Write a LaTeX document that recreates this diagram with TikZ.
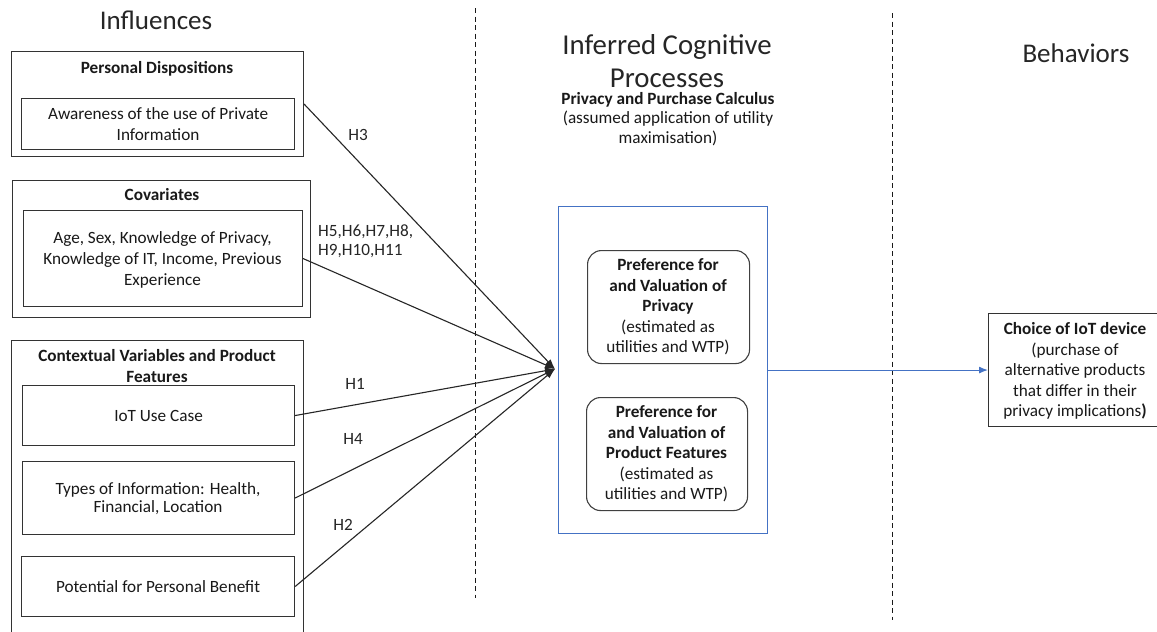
\documentclass[tikz,border=0pt]{standalone}
\usepackage{fontspec}
\setmainfont{Carlito}
\usetikzlibrary{arrows.meta}
\definecolor{procblue}{HTML}{4472C4}
\tikzset{
  box/.style={draw=black!80, line width=1.1pt, inner sep=0pt, anchor=north west},
  rbox/.style={draw=black!75, line width=1.1pt, inner sep=0pt, anchor=north west, rounded corners=14pt},
  bbox/.style={draw=procblue, line width=1.1pt, inner sep=0pt, anchor=north west},
  txt/.style={font=\fontsize{17.2}{20.6}\selectfont, align=center, text=black!90, inner sep=0pt},
  ttl/.style={font=\fontsize{27}{33}\selectfont, align=center, text=black!85, inner sep=0pt},
  hlab/.style={font=\fontsize{17.2}{19}\selectfont, align=left, text=black!85, inner sep=0pt},
  link/.style={draw=black!85, line width=1.1pt, -{Latex[length=10pt,width=7pt]}},
  bluelink/.style={draw=procblue, line width=1.1pt, -{Latex[length=9pt,width=7pt]}},
  divider/.style={draw=black!90, line width=0.9pt, dash pattern=on 5pt off 3.5pt}
}
\begin{document}
\begin{tikzpicture}[x=1pt,y=-1pt]
\useasboundingbox (0,0) rectangle (1157,632);
\clip (0,0) rectangle (1157,632);
\fill[white] (0,0) rectangle (1157,632);
% titles
\node[ttl] (tinf) at (156,20) {Influences};
\node[ttl, font=\fontsize{28.8}{33}\selectfont, anchor=base] (tmid) at (667,54) {Inferred Cognitive};
\node[ttl, font=\fontsize{28.8}{33}\selectfont, anchor=base] (tmid2) at (667,87) {Processes};
\node[ttl] (tbeh) at (1076,53) {Behaviors};
\node[txt, font=\fontsize{17.2}{19.5}\selectfont] (tcalc) at (668,119) {\textbf{Privacy and Purchase Calculus}\\(assumed application of utility\\maximisation)};
% dividers
\coordinate (d1t) at (475,8);
\coordinate (d1b) at (475,598);
\coordinate (d2t) at (892,13);
\coordinate (d2b) at (892,620);
\draw[divider] (d1t) -- (d1b);
\draw[divider] (d2t) -- (d2b);
% personal dispositions
\node[box, minimum width=292pt, minimum height=105pt] (pd) at (11,51) {};
\node[txt] (pdt) at (157,69) {\textbf{Personal Dispositions}};
\node[box, minimum width=273pt, minimum height=51pt] (pdin) at (21,98) {};
\node[txt] (pdintxt) at (pdin.center) {Awareness of the use of Private\\Information};
% covariates
\node[box, minimum width=298pt, minimum height=137pt] (cov) at (12,180) {};
\node[txt] (covt) at (162,195) {\textbf{Covariates}};
\node[box, minimum width=279pt, minimum height=96pt] (covin) at (23,210) {};
\node[txt] (covintxt) at (162.5,260) {Age, Sex, Knowledge of Privacy,\\Knowledge of IT, Income, Previous\\Experience};
% contextual
\node[box, minimum width=292pt, minimum height=310pt] (ctx) at (11,340) {};
\node[txt] (ctxt) at (157,366) {\textbf{Contextual Variables and Product}\\\textbf{Features}};
\node[box, minimum width=272pt, minimum height=60pt] (iot) at (22,385) {};
\node[txt] (iottxt) at (iot.center) {IoT Use Case};
\node[box, minimum width=272pt, minimum height=73pt] (types) at (22,461) {};
\node[txt, font=\fontsize{17.2}{18}\selectfont] (typestxt) at (158,499) {Types of Information: Health,\\Financial, Location};
\node[box, minimum width=273pt, minimum height=60pt] (pot) at (21,556) {};
\node[txt] (pottxt) at (pot.center) {Potential for Personal Benefit};
% process box
\node[bbox, minimum width=209pt, minimum height=327pt] (proc) at (558,206) {};
\node[rbox, minimum width=162pt, minimum height=113pt] (pref1) at (587,250) {};
\node[txt] (pref1txt) at (668,307) {\textbf{Preference for}\\\textbf{and Valuation of}\\\textbf{Privacy}\\(estimated as\\utilities and WTP)};
\node[rbox, minimum width=161pt, minimum height=113pt] (pref2) at (586,397) {};
\node[txt] (pref2txt) at (666.5,454) {\textbf{Preference for}\\\textbf{and Valuation of}\\\textbf{Product Features}\\(estimated as\\utilities and WTP)};
% choice
\node[box, minimum width=168.5pt, minimum height=113pt] (choice) at (988,313) {};
\node[txt] (choicetxt) at (1075,371) {\textbf{Choice of IoT device}\\(purchase of\\alternative products\\that differ in their\\privacy implications\textbf{)}};
% connectors
\coordinate (conv) at (555,369);
\draw[link] (pd.east) -- (conv);
\draw[link] (covin.east) -- (conv);
\draw[link] (iot.east) -- (conv);
\draw[link] (types.east) -- (conv);
\draw[link] (pot.east) -- (conv);
\draw[bluelink] (proc.east) -- (choice.west);
% hypothesis labels
\node[hlab] (h3) at (358,135) {H3};
\node[hlab, anchor=west] (h5) at (318,241.5) {H5,H6,H7,H8,\\H9,H10,H11};
\node[hlab] (h1) at (355,384) {H1};
\node[hlab] (h4) at (353,439) {H4};
\node[hlab] (h2) at (343,525) {H2};
\end{tikzpicture}
\end{document}
